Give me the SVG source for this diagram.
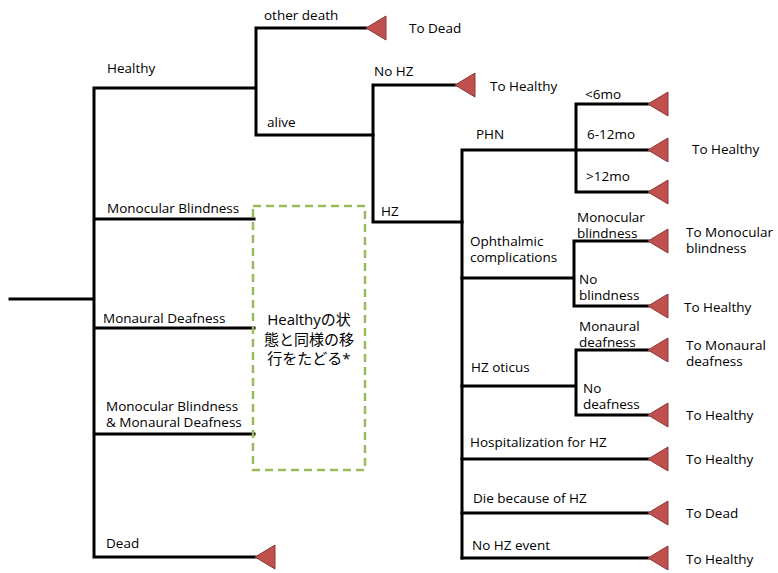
<svg xmlns="http://www.w3.org/2000/svg" width="778" height="573" viewBox="0 0 778 573">
<defs>
<style>
.ln{stroke:#000;stroke-width:3;fill:none;stroke-linecap:square}
.tri{fill:#C0504D;stroke:#8C3836;stroke-width:1}
text{font-family:"Open Sans","Liberation Sans","Noto Sans CJK JP",sans-serif;font-size:13.5px;fill:#000}
.jp{font-family:"Open Sans","Noto Sans CJK JP",sans-serif;font-size:15px}
.box{fill:none;stroke:#9BBB59;stroke-width:2.5;stroke-dasharray:8,5}
</style>
<polygon id="t" class="tri" points="0,0 20,-12 20,12"/>
</defs>
<rect width="778" height="573" fill="#fff"/>
<g id="connectors">
<path class="ln" d="M10,299H94M94,88V557M94,88H255M94,219H254M94,328H254M94,434H254M94,557H255"/>
<path class="ln" d="M256,88V28H366M256,88V135H373"/>
<path class="ln" d="M373,85V222M373,85H455M373,222H462"/>
<path class="ln" d="M462,150V558M462,150H576M576,104V192M576,104H648M576,150H648M576,192H648"/>
<path class="ln" d="M462,278H574M574,241V306M574,241H648M574,306H648"/>
<path class="ln" d="M462,386H576M576,350V415M576,350H648M576,415H648"/>
<path class="ln" d="M462,459H648M462,513H648M462,558H648"/>
</g>
<g id="terminals">
<use href="#t" x="366" y="28"/>
<use href="#t" x="455" y="85"/>
<use href="#t" x="648" y="104"/>
<use href="#t" x="648" y="150"/>
<use href="#t" x="648" y="192"/>
<use href="#t" x="648" y="241"/>
<use href="#t" x="648" y="306"/>
<use href="#t" x="648" y="350"/>
<use href="#t" x="648" y="415"/>
<use href="#t" x="648" y="459"/>
<use href="#t" x="648" y="513"/>
<use href="#t" x="648" y="558"/>
<use href="#t" x="255" y="557"/>
</g>
<g id="healthy"><text x="107" y="73">Healthy</text></g>
<g id="other-death"><text x="264" y="20">other death</text><text x="409" y="33">To Dead</text></g>
<g id="alive"><text x="267" y="127">alive</text></g>
<g id="no-hz"><text x="374" y="76">No HZ</text><text x="490" y="91">To Healthy</text></g>
<g id="hz"><text x="381" y="216">HZ</text></g>
<g id="phn"><text x="476" y="139">PHN</text>
<text x="585" y="99">&lt;6mo</text><text x="587" y="139">6-12mo</text><text x="586" y="181">&gt;12mo</text>
<text x="692" y="154">To Healthy</text></g>
<g id="ophthalmic"><text x="470" y="246">Ophthalmic</text><text x="470" y="262">complications</text>
<text x="577" y="222">Monocular</text><text x="577" y="238">blindness</text>
<text x="686" y="237">To Monocular</text><text x="686" y="253">blindness</text>
<text x="579" y="284">No</text><text x="579" y="300">blindness</text>
<text x="684" y="312">To Healthy</text></g>
<g id="hz-oticus"><text x="471" y="372">HZ oticus</text>
<text x="579" y="331">Monaural</text><text x="579" y="347">deafness</text>
<text x="686" y="350">To Monaural</text><text x="686" y="366">deafness</text>
<text x="583" y="393">No</text><text x="583" y="409">deafness</text>
<text x="686" y="420">To Healthy</text></g>
<g id="hospitalization"><text x="470" y="447">Hospitalization for HZ</text><text x="686" y="464">To Healthy</text></g>
<g id="die-hz"><text x="473" y="503">Die because of HZ</text><text x="686" y="518">To Dead</text></g>
<g id="no-hz-event"><text x="472" y="550">No HZ event</text><text x="686" y="564">To Healthy</text></g>
<g id="monocular"><text x="107" y="213">Monocular Blindness</text></g>
<g id="monaural"><text x="103" y="323">Monaural Deafness</text></g>
<g id="both"><text x="106" y="411">Monocular Blindness</text><text x="106" y="427">&amp; Monaural Deafness</text></g>
<g id="dead"><text x="106" y="548">Dead</text></g>
<g id="note">
<rect class="box" x="253" y="206" width="112" height="264"/>
<text class="jp" x="309" y="325" text-anchor="middle">Healthyの状</text>
<text class="jp" x="309" y="345" text-anchor="middle">態と同様の移</text>
<text class="jp" x="309" y="364" text-anchor="middle">行をたどる*</text>
</g>
</svg>
